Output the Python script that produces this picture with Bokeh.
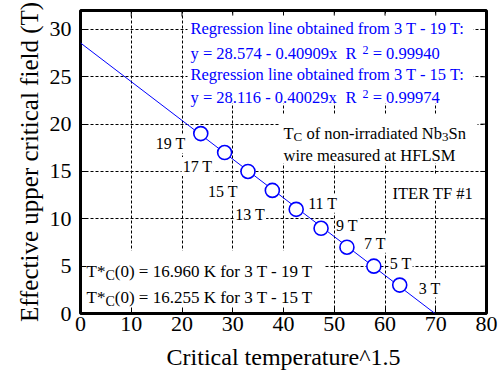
from bokeh.plotting import figure
from bokeh.models import Label, BoxAnnotation, FixedTicker, Range1d, ColumnDataSource, Title
from bokeh.core.properties import value
from bokeh.embed import file_html
from bokeh.resources import INLINE

# ---------------- data ----------------
fields = [19, 17, 15, 13, 11, 9, 7, 5, 3]                 # applied field (T)
tc15 = [23.7, 28.4, 33.0, 37.8, 42.5, 47.4, 52.5, 57.8, 62.9]  # Tc^1.5
field_labels = [f"{f} T" for f in fields]
fit_ranges = ["3 T - 19 T", "3 T - 15 T"]
intercepts = [28.574, 28.116]
slopes = [-0.40909, -0.40029]
r_squared = [0.99940, 0.99974]
tstar = [16.960, 16.255]
x_ticks = [0, 10, 20, 30, 40, 50, 60, 70, 80]
y_ticks = [0, 5, 10, 15, 20, 25, 30]

FONT = "Liberation Serif"
BLUE = "#0000ff"

# label offsets in screen px relative to each point (dx right, dy down)
lab_dx = [-46, -43, -41, -38, 11, 14, 16, 15, 18]
lab_dy = [10, 14, 20, 24, -6, -3, -4, -3, 3]

# ---------------- geometry helpers (annotation placement) ----------------
FL, FR, FT, FB = 80.0, 486.0, 10.0, 313.0   # frame in page px
XMAX, YMAX = 80.0, 32.0
PX_X = (FR - FL) / XMAX      # px per x unit
PX_Y = (FB - FT) / YMAX      # px per y unit
TICK = 6                     # inward tick length, px


def X(px):
    return (px - FL) / PX_X


def Y(py):
    return (FB - py) / PX_Y


W = {' ': 250, '!': 333, '#': 500, '(': 333, ')': 333, '*': 500, '+': 564, '-': 333,
     '.': 250, ':': 278, '=': 564, '^': 469,
     'A': 722, 'B': 667, 'C': 667, 'D': 722, 'E': 611, 'F': 556, 'G': 722, 'H': 722,
     'I': 333, 'J': 389, 'K': 722, 'L': 611, 'M': 889, 'N': 722, 'O': 722, 'P': 556,
     'Q': 722, 'R': 667, 'S': 556, 'T': 611, 'U': 722, 'V': 722, 'W': 944, 'X': 722,
     'Y': 722, 'Z': 611,
     'a': 444, 'b': 500, 'c': 444, 'd': 500, 'e': 444, 'f': 333, 'g': 500, 'h': 500,
     'i': 278, 'j': 278, 'k': 500, 'l': 278, 'm': 778, 'n': 500, 'o': 500, 'p': 500,
     'q': 500, 'r': 333, 's': 389, 't': 278, 'u': 500, 'v': 500, 'w': 722, 'x': 500,
     'y': 500, 'z': 444}


def tw(s, size):
    return sum(W.get(c, 500) for c in s) * size / 1000.0


def add_segments(p, px0, py0, segs, color="black"):
    off = 0.0
    for text, size, dy in segs:
        lead = len(text) - len(text.lstrip(" "))
        shown = text.strip(" ")
        p.add_layout(Label(x=X(px0), y=Y(py0), x_offset=off + tw(" " * lead, size),
                           y_offset=dy, text=shown,
                           text_font=FONT, text_font_size=f"{size}px", text_color=color,
                           text_baseline="alphabetic", text_align="left", level="glyph"))
        off += tw(text, size)


def add_box(p, l, r, t, b):
    p.add_layout(BoxAnnotation(left=X(l), right=X(r), top=Y(t), bottom=Y(b),
                               fill_color="white", fill_alpha=1.0, line_color=None,
                               level="glyph"))


# ---------------- figure ----------------
p = figure(frame_width=int(FR - FL), frame_height=int(FB - FT),
           x_range=Range1d(0, XMAX), y_range=Range1d(0, YMAX),
           output_backend="svg", toolbar_location=None,
           min_border_left=int(FL), min_border_right=16, min_border_top=int(FT),
           min_border_bottom=10)
p.background_fill_color = "white"
p.border_fill_color = "white"
p.outline_line_color = "black"
p.outline_line_width = 3

for ax in (p.xaxis[0], p.yaxis[0]):
    ax.major_tick_in = TICK
    ax.major_tick_out = 0
    ax.minor_tick_in = 0
    ax.minor_tick_out = 0
    ax.axis_line_color = None
    ax.major_tick_line_color = "black"
    ax.major_tick_line_width = 1
    ax.major_label_text_font = FONT
    ax.major_label_text_font_size = "22px"
    ax.major_label_text_color = "black"
    ax.axis_label_text_font = FONT
    ax.axis_label_text_font_style = "normal"
    ax.axis_label_text_color = "black"

p.xaxis.ticker = FixedTicker(ticks=x_ticks)
p.yaxis.ticker = FixedTicker(ticks=y_ticks)
p.xaxis.axis_label = "Critical temperature^1.5"
p.xaxis.axis_label_text_font_size = "24px"
p.xaxis.major_label_standoff = 3
p.yaxis.major_label_standoff = 9
p.xaxis.axis_label_standoff = 10

# y-axis title (as a side title so it can sit a little below the frame centre)
ytitle = Title(text="Effective upper critical field (T)", align="center", offset=-10,
               text_font=FONT, text_font_size="25px", text_font_style="normal",
               text_color="black", standoff=8)
p.add_layout(ytitle, "left")

p.xgrid.ticker = FixedTicker(ticks=x_ticks)
p.ygrid.ticker = FixedTicker(ticks=y_ticks)
for g in (p.xgrid[0], p.ygrid[0]):
    g.grid_line_color = "black"
    g.grid_line_dash = "3 2"
    g.grid_line_width = 1

# ---------------- white text boxes ----------------
add_box(p, 187, 473, 15, 103)    # regression text
add_box(p, 279, 477, 114, 163)   # Tc text
add_box(p, 388, 477, 174, 200)   # ITER TF #1
add_box(p, 84, 324, 250, 308)    # T*c(0)

# regression block
tops = [28, 53, 74, 97]
for i in range(2):
    add_segments(p, 190, tops[2 * i],
                 [(f"Regression line obtained from {fit_ranges[i]}:", 16.5, 0)], BLUE)
    add_segments(p, 190, tops[2 * i + 1],
                 [(f"y = {intercepts[i]:.3f} - {abs(slopes[i]):.5f}x", 16.5, 0),
                  ("  R", 16.5, 0),
                  ("  2", 12, 4),
                  (f" = {r_squared[i]:.5f}", 16.5, 0)], BLUE)

# Tc description
add_segments(p, 283, 133, [("T", 16.5, 0), ("C", 13, -3),
                           (" of non-irradiated Nb", 16.5, 0), ("3", 13, -3),
                           ("Sn", 16.5, 0)])
add_segments(p, 283, 155, [("wire measured at HFLSM", 16.5, 0)])
add_segments(p, 392, 193, [("ITER TF #1", 16.5, 0)])

# T*c(0)
for i, base in enumerate([271, 297]):
    add_segments(p, 86, base, [("T*", 17, 0), ("C", 14, -4),
                               (f"(0) = {tstar[i]:.3f} K for {fit_ranges[i]}", 17, 0)])

# ---------------- glyphs ----------------
# inward ticks on the top and right frame edges
p.segment(x0=x_ticks, y0=[YMAX] * len(x_ticks), x1=x_ticks,
          y1=[YMAX - TICK / PX_Y] * len(x_ticks), line_color="black", line_width=1)
p.segment(x0=[XMAX] * len(y_ticks), y0=y_ticks, x1=[XMAX - TICK / PX_X] * len(y_ticks),
          y1=y_ticks, line_color="black", line_width=1)

src = ColumnDataSource(dict(x=tc15, y=fields, lab=field_labels, dx=lab_dx, dy=lab_dy))
p.text(x="x", y="y", text="lab", x_offset="dx", y_offset="dy", source=src,
       text_font=value(FONT), text_font_size="16px", text_color="black",
       text_baseline="alphabetic", text_align="left",
       background_fill_color="white", padding=1)

x_end = -intercepts[0] / slopes[0]
p.line(x=[0, x_end], y=[intercepts[0], intercepts[0] + slopes[0] * x_end],
       line_color=BLUE, line_width=1)
p.scatter(x="x", y="y", source=src, size=14, marker="circle", fill_color="white",
          line_color=BLUE, line_width=1.6)

open("out.html", "w").write(file_html(p, INLINE))
